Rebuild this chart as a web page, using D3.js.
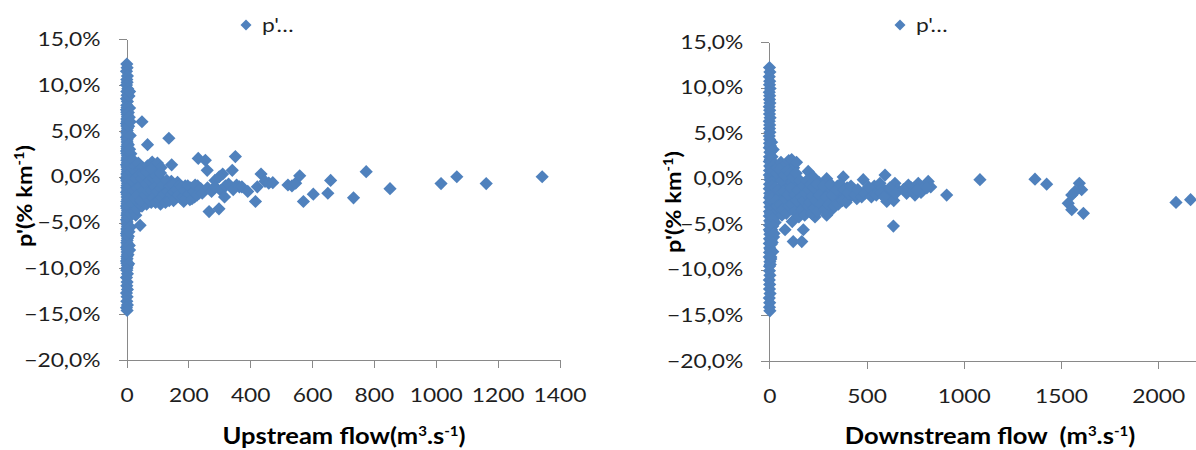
<!DOCTYPE html>
<html><head><meta charset="utf-8">
<script src="https://cdn.jsdelivr.net/npm/d3@7"></script>
<style>
html,body{margin:0;padding:0;background:#fff;}
svg{display:block;}
text{font-family:Lato,"Open Sans",sans-serif;white-space:pre;}
</style>
</head><body>
<svg id="c" width="1196" height="450"></svg>
<script>
// ---- tick values ----
const yTicks = [-20, -15, -10, -5, 0, 5, 10, 15];
const upXTicks = [0, 200, 400, 600, 800, 1000, 1200, 1400];
const downXTicks = [0, 500, 1000, 1500, 2000];
const legendLabel = "p'…";
const upTitle = ["Upstream flow(m", "3", ".s", "-1", ")"];
const downTitle = ["Downstream flow  (m", "3", ".s", "-1", ")"];
const yTitle = ["p'(% km", "-1", ")"];

// ---- upstream data: [flow m3/s, p' %/km] ----
const upColumn = [
 [1,12.3],[2,11.9],[0,11.5],[3,11.0],[1,10.6],[2,10.3],[0,10.0],[4,9.6],[1,9.3],[2,8.9],[0,8.5],[3,8.2],
 [1,7.8],[0,7.3],[2,6.8],[1,6.3],[0,5.8],[3,5.3],[1,4.8],[0,4.3],[2,3.8],[1,3.3],[0,2.8],[3,2.3],[1,1.8],[0,1.3],
 [2,0.8],[1,0.3],[0,-0.2],[3,-0.7],[1,-1.2],[0,-1.7],[2,-2.2],[1,-2.7],[0,-3.2],[3,-3.7],[1,-4.2],[0,-4.7],[2,-5.2],
 [1,-5.7],[0,-6.2],[3,-6.7],[1,-7.2],[0,-7.7],[2,-8.2],[1,-8.7],[0,-9.2],[3,-9.7],
 [2,7.55],[1,7.05],[3,6.55],[2,6.05],[1,5.55],[2,5.05],[3,4.55],[2,4.05],[3,3.55],[2,3.05],[1,2.55],[2,2.05],
 [3,1.55],[2,1.05],[3,0.55],[2,0.05],[1,-0.45],[2,-0.95],[3,-1.45],[2,-1.95],[3,-2.45],[2,-2.95],[1,-3.45],
 [2,-3.95],[3,-4.45],[2,-4.95],[3,-5.45],[2,-5.95],[1,-6.45],[2,-6.95],[3,-7.45],[2,-7.95],[3,-8.45],[2,-8.95],
 [1,-9.45],[2,-9.95],
 [8,8.8],[10,7.5],[6,7.0],[9,6.5],[7,5.5],[12,4.5],[6,3.5],[14,2.5],[8,1.5],[15,0.5],[9,-0.5],[16,-1.5],[8,-2.5],
 [14,-3.5],[7,-4.5],[12,-5.5],[6,-6.5],[9,-7.5],[5,-8.5],[7,-9.5],[10,9.3],[12,6.0],[10,3.0],[18,1.0],[12,-1.0],
 [18,-3.0],[14,-4.0],[8,-6.0],[10,-8.0],
 [1,-10.2],[3,-10.6],[0,-11.0],[2,-11.5],[1,-11.9],[3,-12.3],[0,-12.7],[2,-13.1],[1,-13.6],[3,-14.0],[0,-14.3],[2,-14.6]
];
const upFan = [
 [22,1.8],[25,-3.8],[28,1.2],[30,-4.2],[32,0.5],[35,-3.5],[38,1.5],[40,-2.8],[42,-0.5],[45,0.8],[48,-1.8],[50,-3.2],
 [52,1.0],[55,-0.8],[58,-2.5],[60,0.3],[62,-1.5],[65,-3.0],[68,1.2],[70,-0.3],[72,-2.2],[75,0.6],[78,-1.0],[80,-2.8],
 [83,1.6],[85,-0.6],[88,-1.9],[90,-2.6],[93,0.9],[95,-1.3],[98,-2.4],[100,1.5],[102,0.2],[105,-0.9],[108,-2.0],
 [110,-3.0],[112,1.0],[115,-0.4],[118,-1.6],[120,-2.6],[125,-0.8],[128,-1.8],[132,-2.5],[135,-1.2],[140,-2.2],
 [145,-0.5],[148,-1.5],[152,-2.6],[156,-1.0],[160,-2.0],[165,-0.6],[170,-1.4],[175,-2.3],[180,-1.7],[185,-2.7],
 [190,-1.0],[195,-2.0],[200,-1.4],[205,-2.5],[210,-1.8],[215,-1.2],[220,-2.2],[225,-1.5],[230,-1.0],[235,-1.8]
];
const upFan2 = [
 [20,-0.5],[24,-1.5],[26,-2.4],[30,-0.2],[34,-1.2],[36,-2.0],[40,0.2],[44,-1.0],[46,-2.6],[50,-0.2],[54,0.3],
 [56,-1.5],[60,-2.0],[64,-0.8],[66,0.5],[70,-1.6],[74,-2.6],[76,-0.4],[80,0.8],[82,-1.5],[86,-2.3],[88,-0.2],
 [92,-1.1],[94,-2.8],[96,0.1],[100,-1.6],[104,-0.3],[106,-2.5],[110,0.4],[112,-1.2],[116,-2.2],[118,-0.9],
 [122,-1.9],[126,-2.8],[130,-0.4],[134,-1.6],[138,-2.6],[142,-1.0],[146,-1.9],[150,-0.9],[154,-1.7],[158,-2.4],
 [162,-1.4],[168,-2.0],[172,-0.9],[178,-1.2],[182,-2.2],[188,-1.5],[192,-2.4],[198,-1.0],[202,-1.9],[208,-1.2],
 [212,-2.4],[218,-1.6],[222,-0.9],[228,-2.0],[240,-1.3],[245,-1.8]
];
const upScatter = [
 [50,6.0],[68,3.5],[137,4.2],[146,1.3],[44,-5.3],
 [232,2.0],[255,1.8],[261,0.7],[267,-3.8],[299,-3.5],[286,-0.4],[262,-1.2],[275,-1.6],[286,-1.1],[305,-1.5],
 [311,0.3],[300,0.0],[317,-2.2],[320,-1.0],[330,-0.8],[342,0.7],[352,2.2],[356,-0.9],[345,-1.4],[365,-1.1],
 [373,-1.1],[392,-1.6],[417,-2.7],[423,-1.1],[435,0.3],[448,-0.5],[460,-0.7],[473,-0.65],
 [522,-0.9],[535,-1.0],[547,-0.7],[560,0.1],[572,-2.7],[604,-1.9],[651,-1.8],[660,-0.4],[734,-2.3],[775,0.55],
 [852,-1.3],[1017,-0.75],[1068,0.0],[1163,-0.75],[1344,0.0]
];

// ---- downstream data: [flow m3/s, p' %/km] ----
const downColumn = [
 [1,12.2],[3,11.7],[0,11.2],[2,10.7],[1,10.3],[4,9.9],[0,9.5],[2,9.1],[1,8.7],[3,8.3],[0,7.9],[2,7.5],[1,7.1],
 [4,6.7],[0,6.3],[2,5.9],[1,5.5],[3,5.1],[0,4.7],[2,4.3],
 [1,3.9],[0,3.4],[3,2.9],[1,2.4],[0,1.9],[2,1.4],[1,0.9],[0,0.4],[3,-0.1],[1,-0.6],[0,-1.1],[2,-1.6],[1,-2.1],
 [0,-2.6],[3,-3.1],[1,-3.6],[0,-4.1],[2,-4.6],[1,-5.1],[0,-5.6],[3,-6.1],[1,-6.6],[0,-7.1],[2,-7.6],[1,-8.1],
 [0,-8.6],[3,-9.1],[1,-9.6],
 [6,3.6],[8,3.0],[5,2.1],[9,1.2],[6,0.1],[8,-0.9],[5,-1.9],[9,-2.8],[6,-3.8],[8,-4.8],[5,-5.8],[9,-6.8],[6,-7.8],
 [8,-8.8],[5,-9.4],
 [12,4.0],[20,3.2],[14,2.4],[28,1.6],[18,0.8],[30,0.0],[15,-0.8],[26,-1.6],[12,-2.4],[24,-3.2],[16,-4.0],
 [30,-4.8],[12,-5.6],[22,-6.4],[10,-7.2],[18,-8.0],[8,-8.6],[20,-2.0],[22,-4.4],[18,-5.2],[24,-6.0],[15,-7.0],
 [1,-10.1],[3,-10.6],[0,-11.1],[2,-11.6],[1,-12.1],[4,-12.6],[0,-13.1],[2,-13.6],[1,-14.1],[3,-14.5]
];
const downFan = [
 [40,1.2],[45,-3.5],[50,0.2],[55,-1.8],[60,1.8],[65,-4.0],[70,-0.6],[75,-2.6],[80,1.5],[85,0.5],[90,-1.2],
 [95,-3.2],[100,2.0],[105,-0.2],[110,-2.0],[115,2.1],[118,-4.7],[120,-0.9],[125,1.2],[130,-2.8],[135,-1.5],
 [140,1.8],[145,-3.8],[150,-0.4],[155,-2.2],[160,-1.0],[165,-3.0],[170,-1.8],[180,-0.5],[185,-2.6],[190,-3.6],
 [195,-1.3],[200,0.8],[205,-2.0],[209,-3.4],[215,-0.8],[220,-1.6],[226,0.2],[230,-2.8],[235,-4.2],[240,-1.2],
 [250,-2.2],[255,-0.4],[260,-3.2],[270,-1.6],[280,-2.4],[290,-1.0],[295,0.0],[295,-4.0],[300,-2.0],[310,-1.2],
 [321,-3.4],[330,-2.6],[340,-1.8],[350,-0.8],[360,-2.2],[370,-1.4],[380,0.2],[390,-2.0],[400,-1.0],[415,-2.0],
 [430,-1.4],[450,-2.2],[466,-1.8],[483,-0.1],[500,-1.2],[518,-1.6],[540,-0.8],[560,-1.3],[569,-0.5],[580,-1.0],
 [595,0.4],[604,-2.5],[612,-1.6],[630,-2.0],[646,-0.5],[660,-1.2],[706,-1.6],[715,-0.7],[730,-1.0],[749,-1.8],
 [766,-0.5],[780,-1.5],[791,-1.2],[800,-0.8],[817,-0.3],[830,-0.9]
];
const downFan2 = [
 [30,-1.0],[35,-2.4],[38,0.6],[42,-3.0],[48,-1.2],[52,1.0],[58,-2.8],[62,-0.2],[68,-3.4],[72,-1.4],[78,0.4],
 [82,-2.2],[88,-3.8],[92,0.9],[98,-1.8],[102,-3.0],[108,0.6],[112,-1.0],[116,-2.8],[122,0.2],[128,-3.6],
 [132,-1.8],[138,0.6],[142,-2.4],[148,-1.2],[152,-4.2],[158,-0.2],[162,-2.0],[168,-3.4],[172,-0.8],[178,-2.4],
 [182,-4.0],[188,-1.6],[192,-0.2],[198,-3.0],[202,-1.2],[208,-2.6],[212,-0.6],[218,-3.8],[222,-1.9],[228,-1.0],
 [232,-3.2],[238,-2.4],[245,-0.6],[248,-3.6],[258,-1.8],[265,-2.8],[275,-0.8],[285,-3.4],[292,-2.0],[305,-2.8],
 [315,-0.6],[325,-1.8],[335,-3.0],[345,-1.2],[355,-2.8],[365,-0.6],[375,-2.4],[385,-1.2],[395,-2.6],[405,-1.6],
 [420,-0.8],[440,-1.8],[455,-1.2],[475,-2.0],[490,-1.6],[510,-0.9],[525,-2.0],[550,-1.8],[575,-1.6],[590,-2.0],
 [620,-1.0],[640,-2.4],[650,-1.6],[690,-1.2],[740,-1.4],[760,-1.2],[810,-1.0]
];
const downScatter = [
 [81,-5.6],[123,-6.9],[167,-6.9],[175,-5.6],[638,-5.2],[912,-1.8],[1083,-0.1],[1366,-0.05],[1426,-0.6],
 [1594,-0.5],[1606,-1.2],[1572,-1.4],[1555,-1.8],[1537,-2.7],[1555,-3.4],[1615,-3.8],[2091,-2.6],[2166,-2.3]
];

// ---- drawing ----
const svg = d3.select("#c");
svg.append("rect").attr("width",1196).attr("height",450).attr("fill","#fff");
const blue = "#4F81BD", axisCol = "#898989", txtCol = "#1e1e1e";
const stretch = 1.2;
const fmtNum = d3.formatLocale({decimal:",", thousands:".", grouping:[3], currency:["",""]}).format(".1f");
const diamond = r => `M0,${-r}L${r},0L0,${r}L${-r},0Z`;

function supText(sel, parts, supSize){
  parts.forEach((p,i)=>{
    const t = sel.append("tspan").text(p);
    if(i%2===1){ t.attr("font-size",supSize).attr("dy",-8); }
    else if(i>0){ t.attr("dy",8); }
  });
}

function panel(cfg){
  const x = d3.scaleLinear().domain(cfg.xDomain).range(cfg.xRange);
  const y = d3.scaleLinear().domain([-20,15]).range(cfg.yRange);
  const g = svg.append("g");

  const ya = g.append("g").attr("transform",`translate(${cfg.xRange[0]},0)`)
    .call(d3.axisLeft(y).tickValues(yTicks).tickSizeInner(8).tickSizeOuter(0).tickPadding(18)
      .tickFormat(d=>fmtNum(d)+"%"));
  const xa = g.append("g").attr("transform",`translate(0,${cfg.yRange[0]})`)
    .call(d3.axisBottom(x).tickValues(cfg.xTicks).tickSizeInner(8).tickSizeOuter(0).tickPadding(21)
      .tickFormat(d3.format("d")));
  [ya,xa].forEach(a=>{
    a.selectAll("path,line").attr("stroke",axisCol).attr("stroke-width",1).attr("shape-rendering","crispEdges");
    a.selectAll("text").attr("font-size",19).attr("fill",txtCol).attr("font-family",null);
  });
  ya.selectAll("text").attr("x",-26/stretch).attr("transform",`scale(${stretch},1)`);
  xa.selectAll("text").attr("transform",`scale(${stretch},1)`);

  g.append("g").selectAll("path").data(cfg.data).join("path")
    .attr("d",diamond(6.6))
    .attr("transform",d=>`translate(${x(d[0])},${y(d[1])})`)
    .attr("fill",blue);

  // legend
  const lg = g.append("g").attr("transform",`translate(${cfg.legend[0]},${cfg.legend[1]})`);
  lg.append("path").attr("d",diamond(5.5)).attr("fill",blue);
  lg.append("text").attr("transform",`translate(16,7) scale(${stretch},1)`).attr("font-size",19)
    .attr("fill",txtCol).text(legendLabel);

  // x title
  const xt = g.append("text").attr("transform",`translate(${cfg.xTitle[0]},${cfg.xTitle[1]}) scale(1.16,1)`)
    .attr("text-anchor","middle").attr("font-size",22).attr("font-weight","bold").attr("fill","#000");
  supText(xt, cfg.xTitleParts, 13);

  // y title
  const yt = g.append("text").attr("transform",`translate(${cfg.yTitle[0]},${cfg.yTitle[1]}) rotate(-90) scale(1.12,1)`)
    .attr("text-anchor","middle").attr("font-size",21).attr("font-weight","bold").attr("fill","#000");
  supText(yt, yTitle, 13);
}

panel({
  xDomain:[0,1400], xRange:[126.5,559.5], yRange:[360,39.3], xTicks:upXTicks,
  data: upColumn.concat(upFan, upFan2, upScatter),
  legend:[246,25], xTitle:[344,444], xTitleParts:upTitle, yTitle:[32,196]
});
panel({
  xDomain:[0,2500], xRange:[769.3,769.3+0.1945*2500], yRange:[361,42], xTicks:downXTicks,
  data: downColumn.concat(downFan, downFan2, downScatter),
  legend:[900,25], xTitle:[990,444], xTitleParts:downTitle, yTitle:[681,202]
});
</script>
</body></html>
